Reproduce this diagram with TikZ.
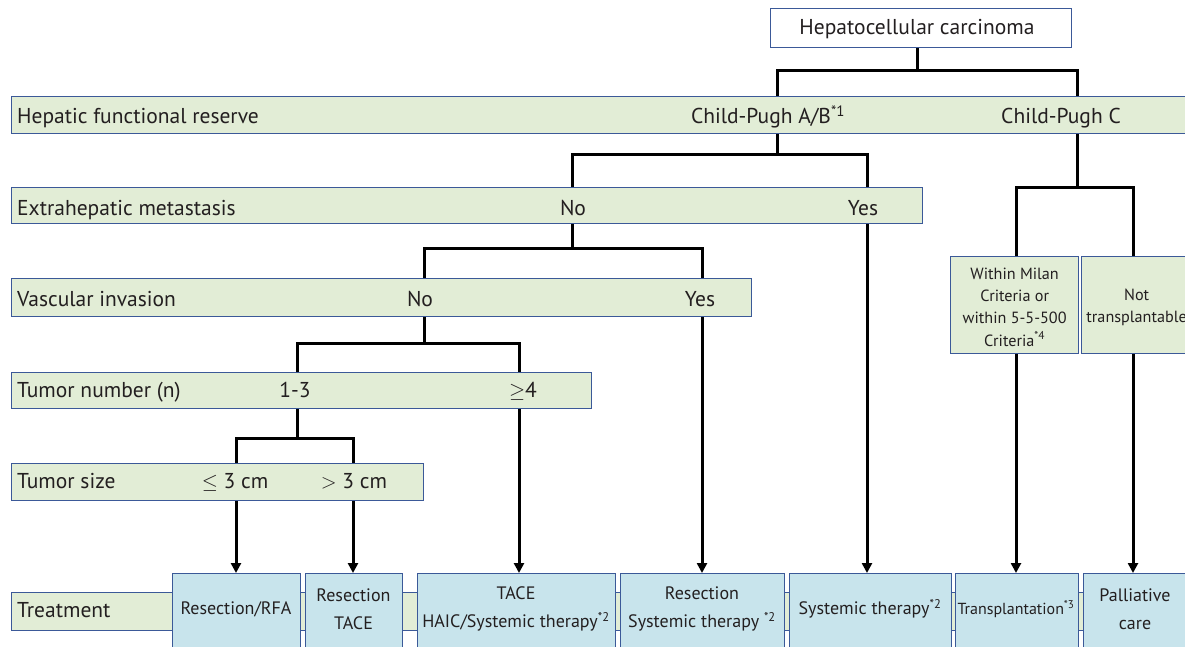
\documentclass[tikz,border=0pt]{standalone}
\usepackage{fontspec}
\setmainfont{PT Sans}
\usetikzlibrary{arrows.meta}
\definecolor{bblue}{RGB}{59,89,152}
\definecolor{bgreen}{RGB}{226,237,214}
\definecolor{tblue}{RGB}{200,228,236}
\definecolor{txt}{RGB}{35,31,32}
\newcommand{\mysup}[1]{\textsuperscript{#1}}
\newcommand{\fbig}{\fontsize{21.5}{24}\selectfont}
\newcommand{\fsmall}{\fontsize{18}{28.5}\selectfont}
\newcommand{\fmil}{\fontsize{16.2}{22.3}\selectfont}
\newcommand{\ftr}{\fontsize{16}{20}\selectfont}
\begin{document}
\begin{tikzpicture}[x=1pt,y=-1pt,
  band/.style={draw=bblue, fill=bgreen, line width=1.3pt, anchor=north west, inner sep=0pt},
  tbox/.style={draw=bblue, fill=tblue, line width=1.3pt, anchor=north west, inner sep=0pt},
  lbl/.style={font=\fbig, text=txt, inner sep=0pt, anchor=base},
  tlbl/.style={font=\fsmall, text=txt, inner sep=0pt, align=center},
  conn/.style={line width=3pt, black},
  arr/.style={conn, -{Triangle[length=10pt,width=10pt]}},
]
\useasboundingbox (0,0) rectangle (1185,647);
% top box
\node[draw=bblue, fill=white, line width=1.3pt, minimum width=301pt, minimum height=39pt, anchor=north west, inner sep=0pt] (hcc) at (770,8) {};
\node[lbl] (hcct) at (917,35) {Hepatocellular carcinoma};
% bands
\node[band, minimum width=1185pt, minimum height=37pt] (b1) at (11,96) {};
\node[band, minimum width=911pt, minimum height=36pt] (b2) at (11,187) {};
\node[band, minimum width=740pt, minimum height=38pt] (b3) at (11,278) {};
\node[band, minimum width=580pt, minimum height=36pt] (b4) at (11,372) {};
\node[band, minimum width=412pt, minimum height=37pt] (b5) at (11,463) {};
\node[band, minimum width=1185pt, minimum height=38pt] (bt) at (11,592) {};
% band labels
\node[lbl, anchor=base west] (l1) at (17,124) {Hepatic functional reserve};
\node[lbl, anchor=base west] (l2) at (17,215) {Extrahepatic metastasis};
\node[lbl, anchor=base west] (l3) at (17,306) {Vascular invasion};
\node[lbl, anchor=base west] (l4) at (17,397) {Tumor number (n)};
\node[lbl, anchor=base west] (l5) at (17,488) {Tumor size};
\node[lbl, anchor=base west] (l6) at (17,617) {Treatment};
% option labels
\node[lbl] (ab) at (768,124) {Child-Pugh A/B\mysup{*1}};
\node[lbl] (cc) at (1061,124) {Child-Pugh C};
\node[lbl] (no2) at (573,215) {No};
\node[lbl] (yes2) at (863,215) {Yes};
\node[lbl] (no3) at (420,306) {No};
\node[lbl] (yes3) at (700,306) {Yes};
\node[lbl] (n13) at (295,397) {1-3};
\node[lbl] (nge4) at (523,397) {$\geq$4};
\node[lbl] (sle3) at (235,488) {$\leq$ 3 cm};
\node[lbl] (sgt3) at (354,488) {$>$ 3 cm};
% transplant criteria boxes
\node[band, minimum width=128pt, minimum height=97pt] (mil) at (950,256) {};
\node[tlbl, font=\fmil] (milt) at ([yshift=-2pt]mil.center) {Within Milan\\Criteria or\\within 5-5-500\\Criteria\mysup{*4}};
\node[band, minimum width=110pt, minimum height=97pt] (notb) at (1081,256) {};
\node[tlbl, font=\fmil] (nott) at ([yshift=-2pt]notb.center) {Not\\transplantable};
% treatment boxes
\node[tbox, minimum width=128pt, minimum height=85pt] (t1) at (172,573) {};
\node[tbox, minimum width=97pt, minimum height=85pt] (t2) at (305,573) {};
\node[tbox, minimum width=198pt, minimum height=85pt] (t3) at (417,573) {};
\node[tbox, minimum width=164pt, minimum height=85pt] (t4) at (620,573) {};
\node[tbox, minimum width=162pt, minimum height=85pt] (t5) at (789,573) {};
\node[tbox, minimum width=123pt, minimum height=85pt] (t6) at (955,573) {};
\node[tbox, minimum width=110pt, minimum height=85pt] (t7) at (1083,573) {};
\node[tlbl] (t1t) at (236,609) {Resection/RFA};
\node[tlbl] (t2t) at (353.5,609) {Resection\\TACE};
\node[tlbl] (t3t) at (516,609) {TACE\\HAIC/Systemic therapy\mysup{*2}};
\node[tlbl] (t4t) at (702,609) {Resection\\Systemic therapy \mysup{*2}};
\node[tlbl] (t5t) at (870,609) {Systemic therapy\mysup{*2}};
\node[tlbl, font=\ftr] (t6t) at (1016,609) {Transplantation\mysup{*3}};
\node[tlbl] (t7t) at (1135,609) {Palliative\\care};
% branch coordinates
\coordinate (xab) at (777,0);
\coordinate (xc) at (1077,0);
\coordinate (xno2) at (572,0);
\coordinate (xyes2) at (867,0);
\coordinate (xno3) at (424,0);
\coordinate (xyes3) at (702,0);
\coordinate (x13) at (297,0);
\coordinate (xge4) at (519,0);
\coordinate (xle3) at (236,0);
\coordinate (xgt3) at (353,0);
\coordinate (xmil) at (1016,0);
\coordinate (xnot) at (1133,0);
\coordinate (j1) at (917,71);
\coordinate (j2) at (777,155);
\coordinate (j3) at (1077,188);
\coordinate (j4) at (572,248);
\coordinate (j5) at (424,343);
\coordinate (j6) at (297,438);
% connectors
\draw[conn] (hcc.south -| j1) -- (j1);
\draw[conn] (xab |- b1.north) |- (j1) -| (xc |- b1.north);
\draw[conn] (xab |- b1.south) -- (j2);
\draw[conn] (xno2 |- b2.north) |- (j2) -| (xyes2 |- b2.north);
\draw[conn] (xc |- b1.south) -- (j3);
\draw[conn] (xmil |- mil.north) |- (j3) -| (xnot |- notb.north);
\draw[conn] (xno2 |- b2.south) -- (j4);
\draw[conn] (xno3 |- b3.north) |- (j4) -| (xyes3 |- b3.north);
\draw[conn] (xno3 |- b3.south) -- (j5);
\draw[conn] (x13 |- b4.north) |- (j5) -| (xge4 |- b4.north);
\draw[conn] (x13 |- b4.south) -- (j6);
\draw[conn] (xle3 |- b5.north) |- (j6) -| (xgt3 |- b5.north);
% arrows
\draw[arr] (xle3 |- b5.south) -- (xle3 |- t1.north);
\draw[arr] (xgt3 |- b5.south) -- (xgt3 |- t2.north);
\draw[arr] (xge4 |- b4.south) -- (xge4 |- t3.north);
\draw[arr] (xyes3 |- b3.south) -- (xyes3 |- t4.north);
\draw[arr] (xyes2 |- b2.south) -- (xyes2 |- t5.north);
\draw[arr] (xmil |- mil.south) -- (xmil |- t6.north);
\draw[arr] (xnot |- notb.south) -- (xnot |- t7.north);
\end{tikzpicture}
\end{document}
